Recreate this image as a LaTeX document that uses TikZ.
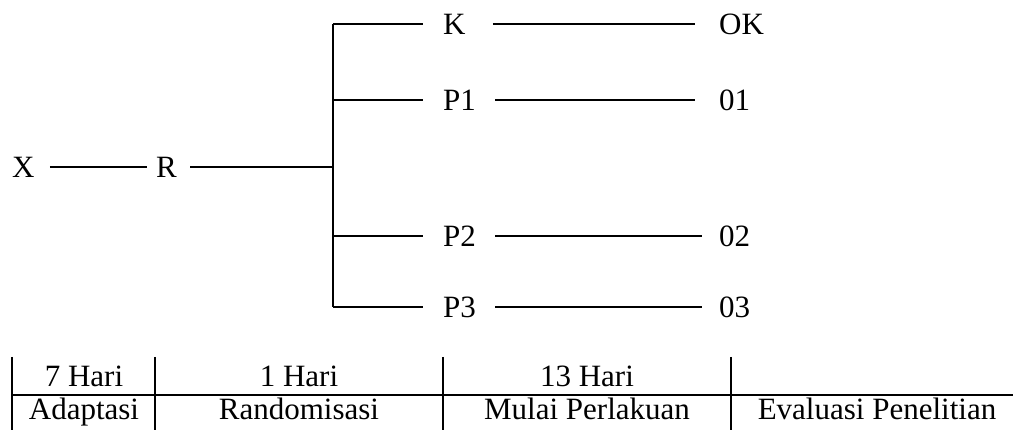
\documentclass[tikz,border=0pt]{standalone}
\usepackage{fontspec}
\setmainfont{Liberation Serif}
\begin{document}
\begin{tikzpicture}[x=1pt,y=-1pt,
  lbl/.style={inner xsep=9pt, inner ysep=0pt, text height=20.5pt, text depth=0pt, anchor=west, font=\fontsize{31}{37}\selectfont},
  cell/.style={inner sep=0pt, anchor=base, font=\fontsize{31}{37}\selectfont},
  conn/.style={line width=1.3pt},
  grid/.style={line width=1.6pt}]
\useasboundingbox (0,0) rectangle (1013,430);
% nodes
\node[lbl] (X) at (3,167) {X};
\node[lbl] (R) at (147,167) {R};
\coordinate (J) at (333,167);
\coordinate (Jk) at (333,24);
\coordinate (J1) at (333,100);
\coordinate (J2) at (333,236);
\coordinate (J3) at (333,307);
\node[lbl] (K) at (434,24) {K};
\node[lbl] (P1) at (434,100) {P1};
\node[lbl] (P2) at (434,236) {P2};
\node[lbl] (P3) at (434,307) {P3};
\node[lbl] (OK) at (710,24) {OK};
\node[lbl] (O1) at (710,100) {01};
\node[lbl] (O2) at (710,236) {02};
\node[lbl] (O3) at (710,307) {03};
% connectors
\draw[conn,shorten <=6pt] (X.east) -- (R.west);
\draw[conn,shorten <=4pt] (R.east) -- (J);
\draw[conn] (Jk) -- (J3);
\draw[conn,shorten >=11pt] (Jk) -- (K.west);
\draw[conn,shorten >=11pt] (J1) -- (P1.west);
\draw[conn,shorten >=11pt] (J2) -- (P2.west);
\draw[conn,shorten >=11pt] (J3) -- (P3.west);
\draw[conn,shorten <=18pt,shorten >=15pt] (K.east) -- (OK.west);
\draw[conn,shorten <=10pt,shorten >=15pt] (P1.east) -- (O1.west);
\draw[conn,shorten <=10pt,shorten >=8pt] (P2.east) -- (O2.west);
\draw[conn,shorten <=10pt,shorten >=8pt] (P3.east) -- (O3.west);
% table
\coordinate (T0) at (12,357);
\coordinate (T1) at (155,357);
\coordinate (T2) at (443,357);
\coordinate (T3) at (731,357);
\draw[grid] (T0) -- (12,432);
\draw[grid] (T1) -- (155,432);
\draw[grid] (T2) -- (443,432);
\draw[grid] (T3) -- (731,432);
\draw[grid] (12,395) -- (1015,395);
\node[cell] (h1) at (84,387) {7 Hari};
\node[cell] (h2) at (299,387) {1 Hari};
\node[cell] (h3) at (587,387) {13 Hari};
\node[cell] (b1) at (84,420) {Adaptasi};
\node[cell] (b2) at (299,420) {Randomisasi};
\node[cell] (b3) at (587,420) {Mulai Perlakuan};
\node[cell] (b4) at (877,420) {Evaluasi Penelitian};
\end{tikzpicture}
\end{document}
